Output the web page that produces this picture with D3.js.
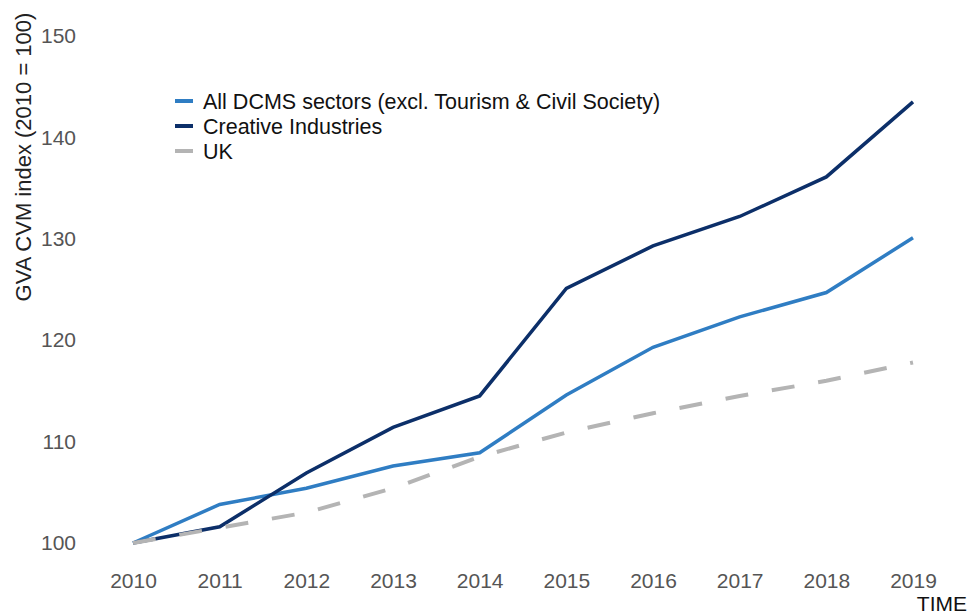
<!DOCTYPE html>
<html>
<head>
<meta charset="utf-8">
<script src="https://cdn.jsdelivr.net/npm/d3@7"></script>
<style>
  body { margin: 0; background: #fff; }
  text { font-family: "Liberation Sans", Arial, sans-serif; }
</style>
</head>
<body>
<div id="chart"></div>
<script>
// chart data
var years = [2010, 2011, 2012, 2013, 2014, 2015, 2016, 2017, 2018, 2019];
var allDcms = [100, 103.8, 105.4, 107.6, 108.9, 114.6, 119.3, 122.3, 124.7, 130.1];
var creative = [100, 101.6, 106.9, 111.4, 114.5, 125.1, 129.3, 132.2, 136.1, 143.5];
var uk = [100, 101.5, 103.0, 105.4, 108.5, 110.9, 112.8, 114.5, 116.0, 117.8];
var yTicks = [100, 110, 120, 130, 140, 150];
var seriesNames = ["All DCMS sectors (excl. Tourism & Civil Society)", "Creative Industries", "UK"];

var svgWidth = 968;
var svgHeight = 613;

var svg = d3.select("#chart")
  .append("svg")
  .attr("width", svgWidth)
  .attr("height", svgHeight);

var xScale = d3.scalePoint()
  .domain(years)
  .range([133, 913]);

var yScale = d3.scaleLinear()
  .domain([100, 150])
  .range([543, 36]);

// y axis labels
var yAxis = d3.axisLeft(yScale).tickValues(yTicks).tickSize(0).tickPadding(0);
var yG = svg.append("g")
  .attr("transform", "translate(76,0)")
  .call(yAxis);
yG.select(".domain").remove();
yG.selectAll("text")
  .attr("font-size", "21px")
  .attr("font-family", "Liberation Sans, Arial, sans-serif")
  .attr("fill", "#555");

// x axis labels
var xAxis = d3.axisBottom(xScale).tickSize(0).tickPadding(0);
var xG = svg.append("g")
  .attr("transform", "translate(0,573)")
  .call(xAxis);
xG.select(".domain").remove();
xG.selectAll("text")
  .attr("font-size", "21px")
  .attr("font-family", "Liberation Sans, Arial, sans-serif")
  .attr("fill", "#555");

// axis titles
svg.append("text")
  .attr("transform", "translate(31,157) rotate(-90)")
  .attr("text-anchor", "middle")
  .attr("font-size", "22px")
  .attr("fill", "#222")
  .text("GVA CVM index (2010 = 100)");

svg.append("text")
  .attr("x", 967)
  .attr("y", 611)
  .attr("text-anchor", "end")
  .attr("font-size", "21px")
  .attr("fill", "#111")
  .text("TIME");

var line = d3.line()
  .x(function(d, i) { return xScale(years[i]); })
  .y(function(d) { return yScale(d); });

svg.append("path")
  .datum(allDcms)
  .attr("d", line)
  .attr("fill", "none")
  .attr("stroke", "#2f7dc3")
  .attr("stroke-width", 3.5);

svg.append("path")
  .datum(creative)
  .attr("d", line)
  .attr("fill", "none")
  .attr("stroke", "#0c2f69")
  .attr("stroke-width", 3.5);

svg.append("path")
  .datum(uk)
  .attr("d", line)
  .attr("fill", "none")
  .attr("stroke", "#b4b4b4")
  .attr("stroke-width", 4)
  .attr("stroke-dasharray", "23,24");

// legend
var legendColors = ["#2f7dc3", "#0c2f69", "#b4b4b4"];
var legend = svg.append("g");
seriesNames.forEach(function(name, i) {
  var y = 101 + i * 25;
  legend.append("line")
    .attr("x1", 175).attr("x2", 193)
    .attr("y1", y).attr("y2", y)
    .attr("stroke", legendColors[i])
    .attr("stroke-width", 4);
  legend.append("text")
    .attr("x", 203)
    .attr("y", y + 7.5)
    .attr("font-size", "21.5px")
    .attr("fill", "#111")
    .text(name);
});
</script>
</body>
</html>
